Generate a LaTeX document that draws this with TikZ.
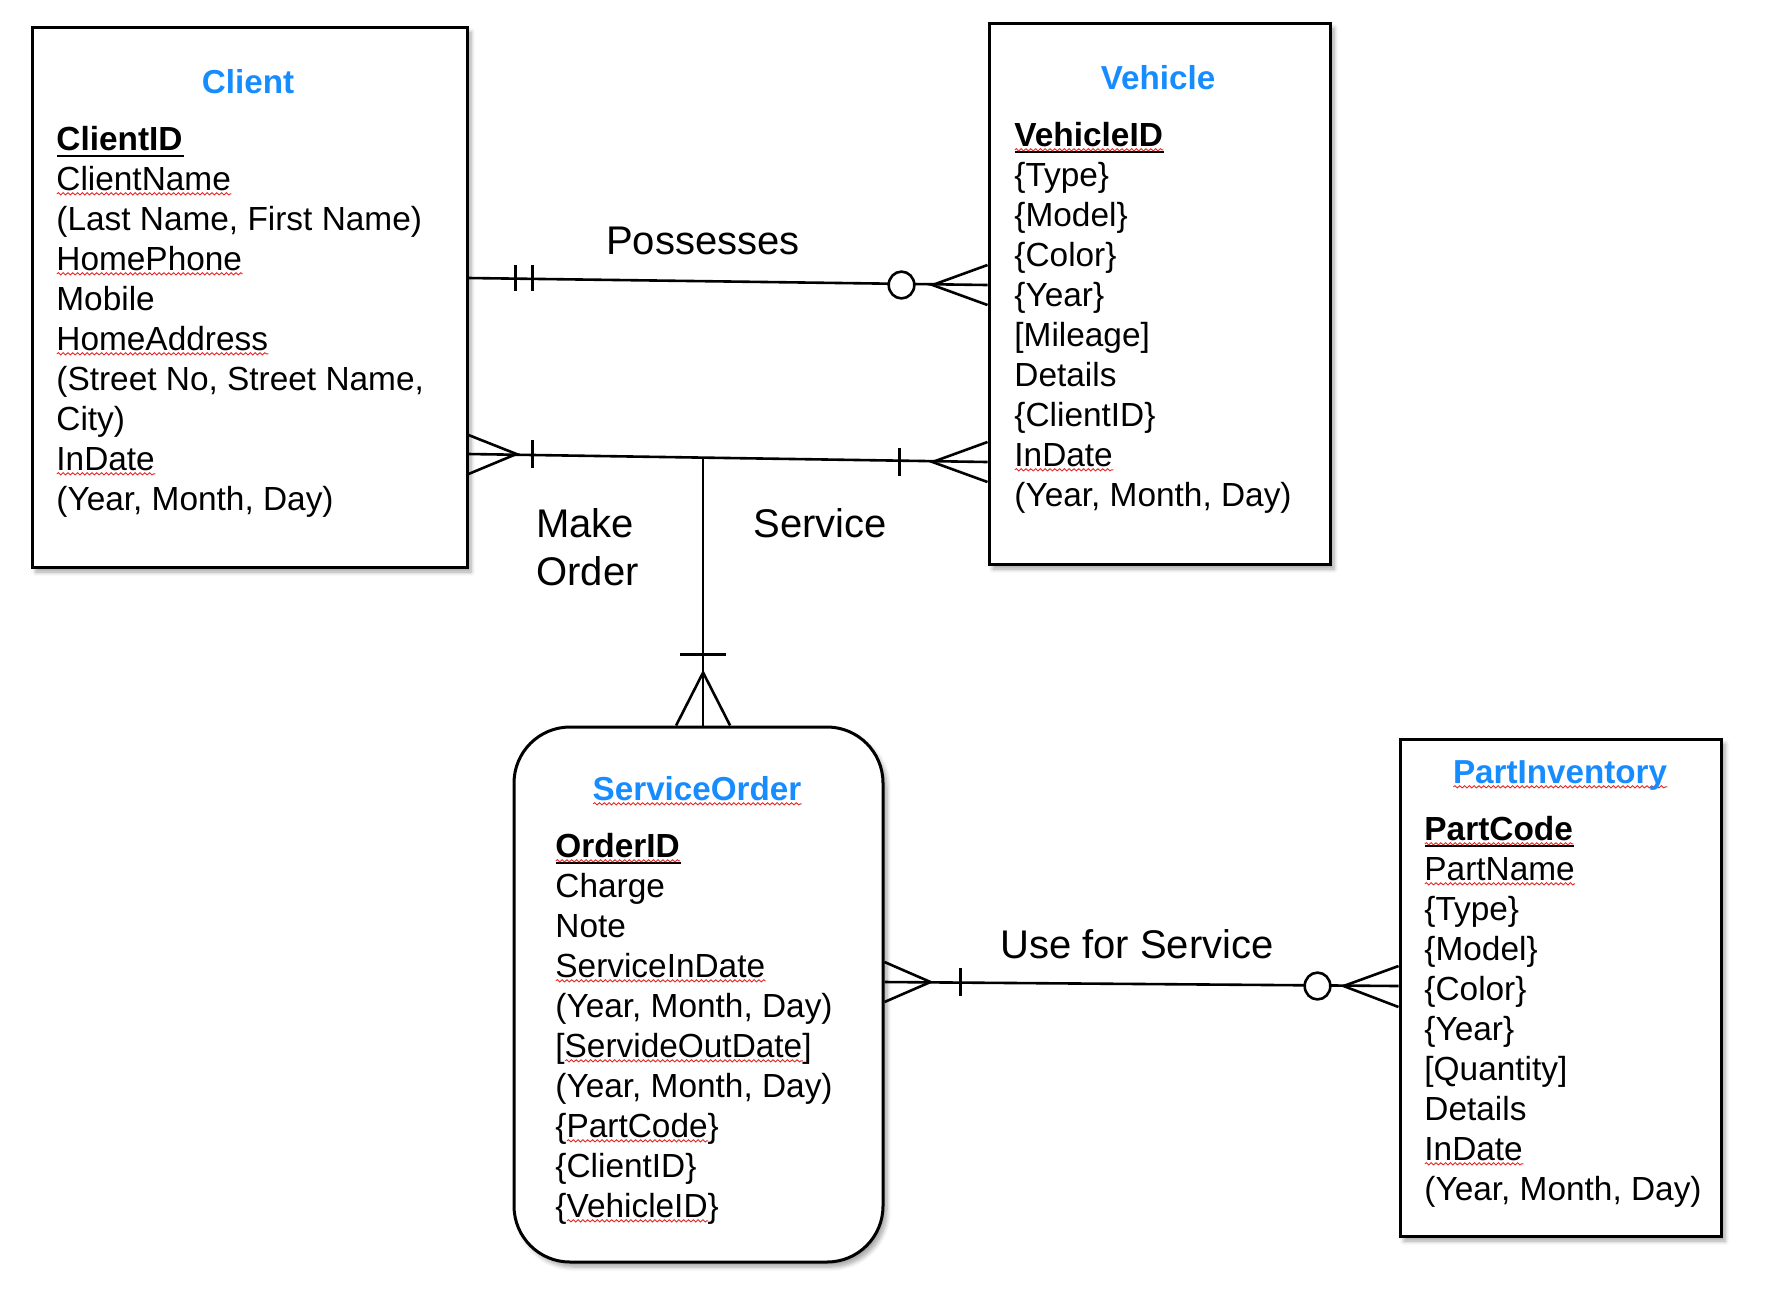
\documentclass[tikz,border=0pt]{standalone}
\usepackage{fontspec}
\setmainfont{Liberation Sans}
\usetikzlibrary{calc,shadows.blur,decorations.pathmorphing}

\definecolor{titleblue}{RGB}{22,140,255}
\definecolor{spellred}{RGB}{230,40,40}

% red wavy spell-check underline
\newsavebox\splbox
\newlength\splw
\newcommand\spl[1]{\sbox\splbox{#1}\setlength\splw{\wd\splbox}%
  \rlap{\tikz[baseline=0pt]\draw[spellred, line width=0.45pt, decorate,
    decoration={snake, amplitude=0.55pt, segment length=2.4pt}]
    (0pt,-1.9pt) -- (\splw,-1.9pt);}\usebox\splbox}
% solid key underline
\newsavebox\keybox
\newlength\keyw
\newcommand\keyline[1]{\sbox\keybox{#1}\setlength\keyw{\wd\keybox}%
  \rlap{\tikz[baseline=0pt]\draw[line width=1pt] (0pt,-3pt) -- (\keyw,-3pt);}\usebox\keybox}

\tikzset{
  entity/.style={draw, line width=1.5pt, fill=white, inner sep=0pt,
    blur shadow={shadow xshift=2pt, shadow yshift=-2.5pt, shadow blur steps=6, shadow opacity=35}},
  etitle/.style={anchor=base, inner sep=0pt, text=titleblue,
    font=\fontsize{16.6}{20}\selectfont\bfseries},
  attrs/.style={anchor=base west, align=left, inner sep=0pt,
    font=\fontsize{16.7}{20}\selectfont},
  rel/.style={anchor=base, inner sep=0pt, font=\fontsize{20}{24}\selectfont},
  link/.style={line width=1.3pt},
  ring/.style={link, fill=white, x radius=6.4pt, y radius=6.7pt},
}

\begin{document}
\begin{tikzpicture}[x=0.5pt, y=-0.5pt]
    \useasboundingbox (0,0) rectangle (1786,1291);

    % Entities
    \node[entity, minimum width=217.5pt, minimum height=270pt] (client) at (249.5,297) {};
    \node[entity, minimum width=170.5pt, minimum height=270.5pt] (vehicle) at (1159.5,293.5) {};
    \node[entity, rounded corners=28pt, minimum width=184.5pt, minimum height=267.5pt] (order) at (698.5,994.5) {};
    \node[entity, minimum width=160.5pt, minimum height=248.5pt] (parts) at (1560.5,987.5) {};

    % Titles
    \node[etitle] (clientT) at (248,93) {Client};
    \node[etitle] (vehicleT) at (1158,89) {Vehicle};
    \node[etitle] (orderT) at (697,800) {\spl{ServiceOrder}};
    \node[etitle] (partsT) at (1560,783) {\spl{PartInventory}};

    % Attributes (anchored at the baseline of the last line)
    \node[attrs] (clientA) at (56,510) {\keyline{\textbf{ClientID}}\\
        \spl{ClientName}\\
        (Last Name, First Name)\\
        \spl{HomePhone}\\
        Mobile\\
        \spl{HomeAddress}\\
        (Street No, Street Name,\\
        City)\\
        \spl{InDate}\\
        (Year, Month, Day)};
    \node[attrs] (vehicleA) at (1014,506) {\keyline{\textbf{\spl{VehicleID}}}\\
        \{Type\}\\
        \{Model\}\\
        \{Color\}\\
        \{Year\}\\
        {[}Mileage{]}\\
        Details\\
        \{ClientID\}\\
        \spl{InDate}\\
        (Year, Month, Day)};
    \node[attrs] (orderA) at (555,1217) {\keyline{\textbf{\spl{OrderID}}}\\
        Charge\\
        Note\\
        \spl{ServiceInDate}\\
        (Year, Month, Day)\\
        {[}\spl{ServideOutDate}{]}\\
        (Year, Month, Day)\\
        \{\spl{PartCode}\}\\
        \{ClientID\}\\
        \{\spl{VehicleID}\}};
    \node[attrs] (partsA) at (1424,1200) {\keyline{\textbf{\spl{PartCode}}}\\
        \spl{PartName}\\
        \{Type\}\\
        \{Model\}\\
        \{Color\}\\
        \{Year\}\\
        {[}Quantity{]}\\
        Details\\
        \spl{InDate}\\
        (Year, Month, Day)};

    % Possesses: client (one and only one) -- vehicle (zero or many)
    \coordinate (p1) at (client.east |- 0,278);
    \coordinate (p2) at (vehicle.west |- 0,285);
    \draw[link] (p1) -- (p2);
    \draw[link] ($(p1)+(47,-13)$) -- ++(0,26);
    \draw[link] ($(p1)+(64,-13)$) -- ++(0,26);
    \draw[link] ($(p2)+(0,-20)$) -- ($(p2)+(-55,0)$) -- ($(p2)+(0,20)$);
    \draw[ring] ($(p2)+(-86,0)$) ellipse [];
    \node[rel] (possL) at (703,254) {Possesses};

    % Make Order / Service
    \coordinate (q1) at (client.east |- 0,454);
    \coordinate (q2) at (vehicle.west |- 0,462);
    \coordinate (j) at ($(q1)!0.452!(q2)$);
    \draw[link] (q1) -- (q2);
    \draw[link] ($(q1)+(0,-19)$) -- ($(q1)+(48,0)$) -- ($(q1)+(0,20)$);
    \draw[link] ($(q1)+(64,-14)$) -- ++(0,28);
    \draw[link] ($(q2)+(-88,-14)$) -- ++(0,28);
    \draw[link] ($(q2)+(0,-20)$) -- ($(q2)+(-55,0)$) -- ($(q2)+(0,20)$);
    \coordinate (jo) at (j |- order.north);
    \draw[link] (j) -- (jo);
    \draw[link] ($(jo)+(-23,-71)$) -- ++(46,0);
    \draw[link] ($(jo)+(-27,0)$) -- ($(jo)+(0,-53)$) -- ($(jo)+(27,0)$);
    \node[rel, align=left, anchor=base west] (makeL) at (536,585) {Make\\Order};
    \node[rel] (servL) at (820,537) {Service};

    % Use for Service: order (one or many) -- parts (zero or many)
    \coordinate (r1) at (order.east |- 0,982);
    \coordinate (r2) at (parts.west |- 0,986);
    \draw[link] (r1) -- (r2);
    \draw[link] ($(r1)+(0,-20)$) -- ($(r1)+(46,0)$) -- ($(r1)+(0,20)$);
    \draw[link] ($(r1)+(76,-14)$) -- ++(0,28);
    \draw[link] ($(r2)+(0,-20)$) -- ($(r2)+(-55,0)$) -- ($(r2)+(0,21)$);
    \draw[ring] ($(r2)+(-81,0)$) ellipse [];
    \node[rel] (useL) at (1137,958) {Use for Service};
\end{tikzpicture}
\end{document}
